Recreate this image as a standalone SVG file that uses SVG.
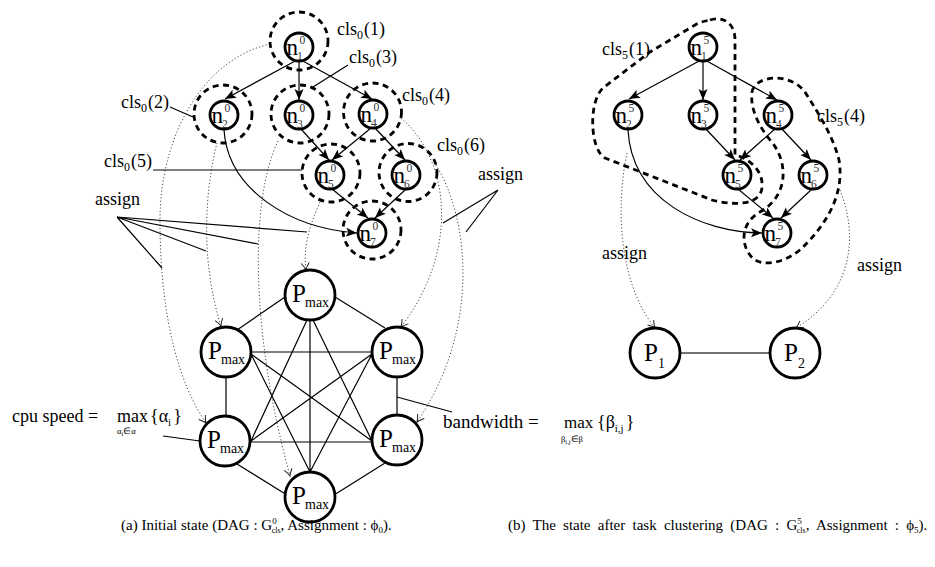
<svg xmlns="http://www.w3.org/2000/svg" width="935" height="567" viewBox="0 0 935 567">
<defs>
<style>
.node{fill:#fff;stroke:#000;stroke-width:2.8}
.cl{fill:none;stroke:#000;stroke-width:2.8;stroke-dasharray:6 4.5}
.e{stroke:#000;stroke-width:1.2;fill:none}
.dot{stroke:#444;stroke-width:1;stroke-dasharray:1.2 2.2;fill:none}
text{font-family:"Liberation Serif","Times New Roman",serif;fill:#000}
.nt{font-size:23px}
.ns{font-size:11.5px;fill:#333}
.pt{font-size:25px}
.pm{font-size:14px}
.lb{font-size:18px}
.cap{font-size:15px}
</style>
<marker id="ah" markerUnits="userSpaceOnUse" markerWidth="12" markerHeight="10" refX="11" refY="5" orient="auto"><path d="M0,0.5 L11,5 L0,9.5 L2.5,5 Z" fill="#000"/></marker>
<marker id="oa" markerUnits="userSpaceOnUse" markerWidth="10" markerHeight="10" refX="8" refY="5" orient="auto"><path d="M1,1 Q5,4 8,5 Q5,6 1,9" fill="none" stroke="#222" stroke-width="1"/></marker>
</defs>
<rect width="935" height="567" fill="#fff"/>

<g id="connectors">
<path class="dot" marker-end="url(#oa)" d="M270,44 C200,60 160,140 160,220 C160,320 180,385 206,423"/>
<path class="dot" marker-end="url(#oa)" d="M217,143 C205,190 200,260 221,326"/>
<path class="dot" marker-end="url(#oa)" d="M278,141 C250,200 250,330 290,476"/>
<path class="dot" marker-end="url(#oa)" d="M320,202 C310,225 303,245 306,270"/>
<path class="dot" marker-end="url(#oa)" d="M401,118 C450,160 460,250 401,327"/>
<path class="dot" marker-end="url(#oa)" d="M436,165 C470,220 480,330 417,422"/>
<path class="dot" marker-end="url(#oa)" d="M627,153 C615,210 620,285 655,328"/>
<path class="dot" marker-end="url(#oa)" d="M840,190 C860,240 850,295 796,328"/>
<path class="e" marker-end="url(#ah)" d="M297,60 L225,99"/>
<path class="e" marker-end="url(#ah)" d="M299,61 L299,100"/>
<path class="e" marker-end="url(#ah)" d="M301,60 L372,99"/>
<path class="e" marker-end="url(#ah)" d="M301,129 L329,160"/>
<path class="e" marker-end="url(#ah)" d="M371,128 L332,160"/>
<path class="e" marker-end="url(#ah)" d="M375,128 L405,160"/>
<path class="e" marker-end="url(#ah)" d="M332,189 L368,218"/>
<path class="e" marker-end="url(#ah)" d="M405,190 L375,218"/>
<path class="e" marker-end="url(#ah)" d="M224,130 C228,190 290,228 357,233"/>
<path class="e" marker-end="url(#ah)" d="M701,60 L629,99"/>
<path class="e" marker-end="url(#ah)" d="M703,61 L703,100"/>
<path class="e" marker-end="url(#ah)" d="M705,60 L777,100"/>
<path class="e" marker-end="url(#ah)" d="M705,128 L735,160"/>
<path class="e" marker-end="url(#ah)" d="M776,128 L740,160"/>
<path class="e" marker-end="url(#ah)" d="M781,128 L811,160"/>
<path class="e" marker-end="url(#ah)" d="M738,189 L773,218"/>
<path class="e" marker-end="url(#ah)" d="M812,189 L781,218"/>
<path class="e" marker-end="url(#ah)" d="M628,130 C632,200 700,232 762,233"/>
<path class="e" d="M285,297 L237,330 M335,297 L385,328 M310,320 L310,472 M307,320 L251,441 M313,320 L372,441 M251,352 L372,352 M226,377 L226,416 M251,354 L372,441 M251,354 L310,472 M397,377 L397,415 M372,354 L251,441 M372,354 L310,472 M251,442 L372,442 M237,464 L287,495 M385,463 L334,495"/>
<path d="M680,353 L770,353" stroke="#444" stroke-width="1.5"/>
<path class="e" d="M170,107 L193,117 M348,65 L313,87 M153,170 L302,170 M117,217 L162,268 M117,217 L206,251 M117,217 L258,244 M117,217 L307,232 M498,190 L443,223 M498,190 L466,232 M397,397 L452,412 M163,436 L200,441"/>
</g>

<g id="L-n1"><circle class="cl" cx="299" cy="41" r="29"/><circle class="node" cx="299" cy="47" r="14"/><text class="nt" x="286.5" y="55">n</text><text class="ns" x="299.5" y="44">0</text><text class="ns" x="297" y="60">1</text></g>
<g id="L-n2"><circle class="cl" cx="223" cy="114" r="29"/><circle class="node" cx="224" cy="115" r="14"/><text class="nt" x="211.5" y="123">n</text><text class="ns" x="224.5" y="112">0</text><text class="ns" x="222" y="128">2</text></g>
<g id="L-n3"><circle class="cl" cx="300" cy="114" r="29"/><circle class="node" cx="299" cy="115" r="14"/><text class="nt" x="286.5" y="123">n</text><text class="ns" x="299.5" y="112">0</text><text class="ns" x="297" y="128">3</text></g>
<g id="L-n4"><circle class="cl" cx="372.5" cy="112" r="29"/><circle class="node" cx="373" cy="114" r="14"/><text class="nt" x="360.5" y="122">n</text><text class="ns" x="373.5" y="111">0</text><text class="ns" x="371" y="127">4</text></g>
<g id="L-n5"><circle class="cl" cx="331" cy="173" r="29"/><circle class="node" cx="330" cy="175" r="14"/><text class="nt" x="317.5" y="183">n</text><text class="ns" x="330.5" y="172">0</text><text class="ns" x="328" y="188">5</text></g>
<g id="L-n6"><circle class="cl" cx="408" cy="172.5" r="29"/><circle class="node" cx="406" cy="175" r="14"/><text class="nt" x="393.5" y="183">n</text><text class="ns" x="406.5" y="172">0</text><text class="ns" x="404" y="188">6</text></g>
<g id="L-n7"><circle class="cl" cx="372" cy="230" r="29"/><circle class="node" cx="372" cy="233" r="14"/><text class="nt" x="359.5" y="241">n</text><text class="ns" x="372.5" y="230">0</text><text class="ns" x="370" y="246">7</text></g>

<g id="cls5-1"><path class="cl" d="M710,20 C722,16 735,22 735,40 L735,155 C748,158 764,170 762,188 C760,205 735,206 712,200 L605,158 C590,150 588,102 603,88 L650,52 L695,25 C700,22 705,21 710,20 Z"/></g>
<g id="cls5-4"><path class="cl" d="M752,92 C755,75 790,72 805,92 C815,108 833,135 839,160 C845,195 825,225 805,245 C790,262 760,270 750,255 C740,242 742,222 760,212 C790,195 788,160 770,140 C758,125 750,108 752,92 Z"/></g>

<g id="R-n1"><circle class="node" cx="703" cy="47" r="14"/><text class="nt" x="690.5" y="55">n</text><text class="ns" x="703.5" y="44">5</text><text class="ns" x="701" y="60">1</text></g>
<g id="R-n2"><circle class="node" cx="628" cy="115" r="14"/><text class="nt" x="615.5" y="123">n</text><text class="ns" x="628.5" y="112">5</text><text class="ns" x="626" y="128">2</text></g>
<g id="R-n3"><circle class="node" cx="703" cy="115" r="14"/><text class="nt" x="690.5" y="123">n</text><text class="ns" x="703.5" y="112">5</text><text class="ns" x="701" y="128">3</text></g>
<g id="R-n4"><circle class="node" cx="778" cy="115" r="14"/><text class="nt" x="765.5" y="123">n</text><text class="ns" x="778.5" y="112">5</text><text class="ns" x="776" y="128">4</text></g>
<g id="R-n5"><circle class="node" cx="737" cy="175" r="14"/><text class="nt" x="724.5" y="183">n</text><text class="ns" x="737.5" y="172">5</text><text class="ns" x="735" y="188">5</text></g>
<g id="R-n6"><circle class="node" cx="813" cy="175" r="14"/><text class="nt" x="800.5" y="183">n</text><text class="ns" x="813.5" y="172">5</text><text class="ns" x="811" y="188">6</text></g>
<g id="R-n7"><circle class="node" cx="777" cy="233" r="14"/><text class="nt" x="764.5" y="241">n</text><text class="ns" x="777.5" y="230">5</text><text class="ns" x="775" y="246">7</text></g>

<g id="P-top"><circle class="node" cx="310" cy="295" r="25"/><text class="pt" x="292" y="302">P</text><text class="pm" x="305" y="307">max</text></g>
<g id="P-ul"><circle class="node" cx="226" cy="352" r="25"/><text class="pt" x="208" y="359">P</text><text class="pm" x="221" y="364">max</text></g>
<g id="P-ur"><circle class="node" cx="397" cy="352" r="25"/><text class="pt" x="379" y="359">P</text><text class="pm" x="392" y="364">max</text></g>
<g id="P-ll"><circle class="node" cx="225" cy="441" r="25"/><text class="pt" x="207" y="448">P</text><text class="pm" x="220" y="453">max</text></g>
<g id="P-lr"><circle class="node" cx="397" cy="440" r="25"/><text class="pt" x="379" y="447">P</text><text class="pm" x="392" y="452">max</text></g>
<g id="P-bot"><circle class="node" cx="310" cy="497" r="25"/><text class="pt" x="292" y="504">P</text><text class="pm" x="305" y="509">max</text></g>
<g id="P1"><circle class="node" cx="655" cy="353" r="25"/><text class="pt" x="644" y="361">P</text><text class="pm" x="658" y="368">1</text></g>
<g id="P2"><circle class="node" cx="795" cy="353" r="25"/><text class="pt" x="784" y="361">P</text><text class="pm" x="798" y="368">2</text></g>

<g id="labels">
<text class="lb" x="337" y="35">cls<tspan dy="4" font-size="12">0</tspan><tspan dy="-4" dx="1">(1)</tspan></text>
<text class="lb" x="121" y="108">cls<tspan dy="4" font-size="12">0</tspan><tspan dy="-4" dx="1">(2)</tspan></text>
<text class="lb" x="349" y="63">cls<tspan dy="4" font-size="12">0</tspan><tspan dy="-4" dx="1">(3)</tspan></text>
<text class="lb" x="402" y="101">cls<tspan dy="4" font-size="12">0</tspan><tspan dy="-4" dx="1">(4)</tspan></text>
<text class="lb" x="104" y="167">cls<tspan dy="4" font-size="12">0</tspan><tspan dy="-4" dx="1">(5)</tspan></text>
<text class="lb" x="437" y="151">cls<tspan dy="4" font-size="12">0</tspan><tspan dy="-4" dx="1">(6)</tspan></text>
<text class="lb" x="602" y="55">cls<tspan dy="4" font-size="12">5</tspan><tspan dy="-4" dx="1">(1)</tspan></text>
<text class="lb" x="817" y="122">cls<tspan dy="4" font-size="12">5</tspan><tspan dy="-4" dx="1">(4)</tspan></text>
<text class="lb" x="95" y="205">assign</text>
<text class="lb" x="478" y="180">assign</text>
<text class="lb" x="602" y="259">assign</text>
<text class="lb" x="857" y="271">assign</text>
<text class="lb" x="12" y="422">cpu speed =</text>
<text class="lb" x="117" y="422" font-size="17">max</text>
<text x="117" y="434" font-size="8.5">α<tspan dy="2" font-size="6.5">i</tspan><tspan dy="-2">∈α</tspan></text>
<text class="lb" x="150" y="422">{α<tspan dy="4" font-size="11">i</tspan><tspan dy="-4" dx="2">}</tspan></text>
<text class="lb" x="443" y="428" font-size="19" style="font-size:19px">bandwidth =</text>
<text class="lb" x="564" y="428" style="font-size:17px">max</text>
<text x="561" y="442" font-size="8.5">β<tspan dy="2" font-size="6.5">i,j</tspan><tspan dy="-2">∈β</tspan></text>
<text class="lb" x="597" y="428">{β<tspan dy="4" font-size="11">i,j</tspan><tspan dy="-4" dx="2">}</tspan></text>
<text class="cap" x="121" y="530">(a) Initial state (DAG : G<tspan dy="-6" font-size="9">0</tspan><tspan dx="-5" dy="9" font-size="8">cls</tspan><tspan dy="-3">, Assignment : ϕ</tspan><tspan dy="3" font-size="9">0</tspan><tspan dy="-3">).</tspan></text>
<text class="cap" x="508" y="530" style="word-spacing:3.5px">(b) The state after task clustering (DAG : G<tspan dy="-6" font-size="9">5</tspan><tspan dx="-5" dy="9" font-size="8">cls</tspan><tspan dy="-3">, Assignment : ϕ</tspan><tspan dy="3" font-size="9">5</tspan><tspan dy="-3">).</tspan></text>
</g>
</svg>
